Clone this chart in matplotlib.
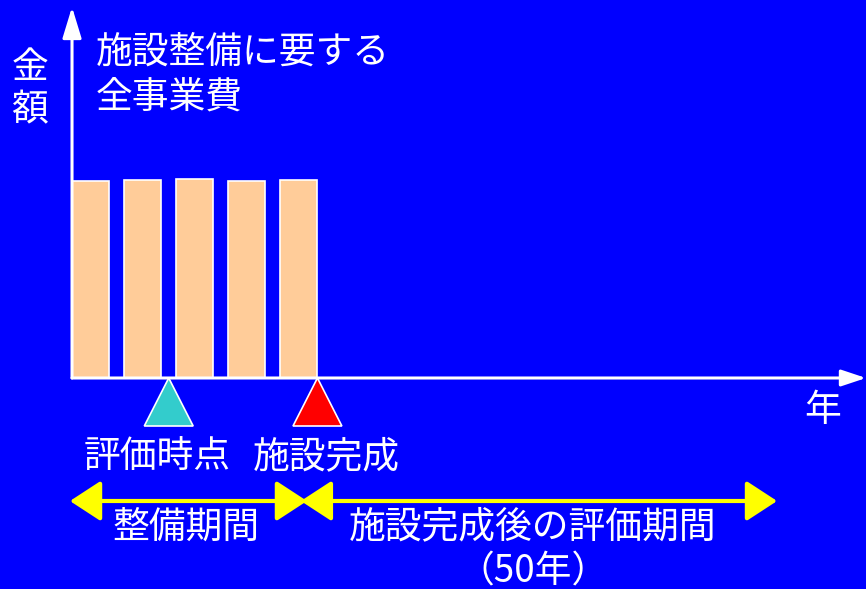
import matplotlib
matplotlib.use("Agg")
import matplotlib.pyplot as plt
from matplotlib.patches import Polygon

plt.rcParams['font.family'] = ['Noto Sans CJK JP', 'DejaVu Sans']

# data: construction years and yearly cost (schematic)
years = [1, 2, 3, 4, 5]
cost = [98.5, 99.0, 99.5, 98.5, 99.0]
eval_year = 2.5          # 評価時点
done_year = 5.36         # 施設完成
split_year = 5.10        # 整備期間 / 評価期間 boundary
end_year = 14.16         # end of 50-year evaluation (schematic)
origin_x = 0.64

BLUE = '#0000FF'
PEACH = '#FFCC99'
W = 866
H = 589

fig = plt.figure(figsize=(8.66, 5.89), dpi=100, facecolor=BLUE)
ax = fig.add_axes([0, 0, 1, 1])
ax.set_facecolor(BLUE)
ax.set_xlim(-0.745, 15.91)
ax.set_ylim(-105.5, 189)
ax.axis('off')

# bars
ax.bar(years, cost, width=0.72, color=PEACH, edgecolor='white', linewidth=1.2, zorder=2)

# axes with arrow heads
ax.annotate('', xy=(15.91, 0), xytext=(origin_x, 0),
            arrowprops=dict(arrowstyle='-|>,head_length=0.75,head_width=0.25',
                            mutation_scale=20, color='white', lw=2.2,
                            shrinkA=0, shrinkB=0), zorder=3)
ax.annotate('', xy=(origin_x, 185.5), xytext=(origin_x, 0),
            arrowprops=dict(arrowstyle='-|>,head_length=0.95,head_width=0.29',
                            mutation_scale=20, color='white', lw=2.2,
                            shrinkA=0, shrinkB=0), zorder=3)

# triangles (evaluation point / completion)
for xv, col in [(eval_year, '#33CCCC'), (done_year, '#FF0000')]:
    tri = Polygon([(xv, 0), (xv - 0.47, -24), (xv + 0.47, -24)], closed=True,
                  facecolor=col, edgecolor='white', linewidth=1.2, zorder=4)
    ax.add_patch(tri)

# period arrows
ystyle = dict(arrowstyle='<|-|>,head_length=0.95,head_width=0.62',
              mutation_scale=20, color='#FFFF00', lw=3, shrinkA=0, shrinkB=0)
ax.annotate('', xy=(split_year + 0.06, -61.5), xytext=(origin_x - 0.04, -61.5), arrowprops=ystyle)
ax.annotate('', xy=(end_year + 0.04, -61.5), xytext=(split_year - 0.06, -61.5), arrowprops=ystyle)


def label(px, py, s, ha='center', size=26.5):
    fig.text(px / W, 1 - py / H, s, color='white', fontsize=size, ha=ha, va='center')


label(30, 67, '金')
label(30, 110, '額')
label(96, 52, '施設整備に要する', ha='left')
label(96, 97, '全事業費', ha='left')
label(157, 457, '評価時点')
label(326, 457, '施設完成')
label(186, 527, '整備期間')
label(533, 527, '施設完成後の評価期間')
label(533, 572, '（50年）')
label(823, 410, '年')

fig.savefig('out.png', dpi=100, facecolor=BLUE)
